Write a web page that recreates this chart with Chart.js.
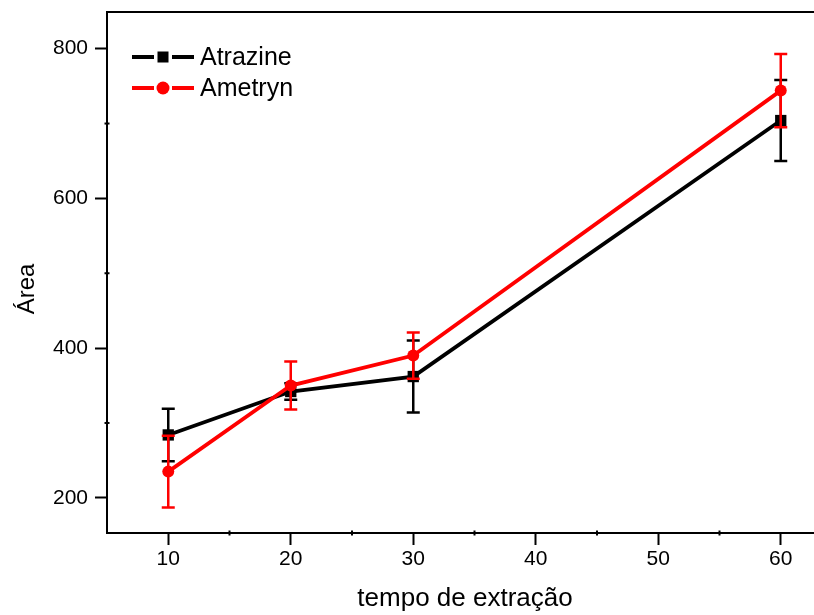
<!DOCTYPE html>
<html><head><meta charset="utf-8">
<script src="https://cdn.jsdelivr.net/npm/chart.js@4"></script>
<style>
html,body{margin:0;padding:0;background:#fff;overflow:hidden;width:814px;height:615px}
#wrap{width:850px;height:615px}
</style></head>
<body><div id="wrap"><canvas id="c" width="850" height="615"></canvas></div>
<script>
const times = [10, 20, 30, 60];
const atrazine = [284, 342, 362, 704];
const atrazineErr = [35, 11, 48, 54];
const ametryn = [235, 350, 390, 744];
const ametrynErr = [48, 32, 31, 49];
const xTickValues = [10, 20, 30, 40, 50, 60];
const xMinorTicks = [15, 25, 35, 45, 55];
const yTickValues = [200, 400, 600, 800];
const yMinorTicks = [300, 500, 700];
const seriesNames = ['Atrazine', 'Ametryn'];
const xTitle = 'tempo de extração';
const yTitle = 'Área';

const FONT = '"Liberation Sans", Arial, sans-serif';

function pts(xs, ys) { return xs.map((x, i) => ({x: x, y: ys[i]})); }
function noPad(s) { s.paddingTop = 0; s.paddingBottom = 0; s.paddingLeft = 0; s.paddingRight = 0; }

const errorBars = {
  id: 'errorBars',
  afterDatasetDraw(chart, args) {
    const ds = chart.data.datasets[args.index];
    const err = ds.errors; if (!err) return;
    const y = chart.scales.y; const ctx = chart.ctx;
    ctx.save();
    ctx.strokeStyle = ds.borderColor; ctx.lineWidth = 2.5; ctx.lineCap = 'butt';
    args.meta.data.forEach((el, i) => {
      const v = ds.data[i].y;
      const yt = y.getPixelForValue(v + err[i]);
      const yb = y.getPixelForValue(v - err[i]);
      const x = el.x;
      ctx.beginPath();
      ctx.moveTo(x, yt); ctx.lineTo(x, yb);
      ctx.moveTo(x - 6.5, yt); ctx.lineTo(x + 6.5, yt);
      ctx.moveTo(x - 6.5, yb); ctx.lineTo(x + 6.5, yb);
      ctx.stroke();
    });
    ctx.restore();
  }
};

const decor = {
  id: 'decor',
  afterDraw(chart) {
    const ctx = chart.ctx, a = chart.chartArea;
    const xs = chart.scales.x, ys = chart.scales.y;
    ctx.save();
    ctx.strokeStyle = '#000'; ctx.lineWidth = 2;
    ctx.beginPath(); ctx.moveTo(a.left - 1, a.top); ctx.lineTo(a.right, a.top); ctx.stroke();
    ctx.beginPath(); ctx.moveTo(a.right, a.top); ctx.lineTo(a.right, a.bottom); ctx.stroke();
    ctx.lineWidth = 2;
    xMinorTicks.forEach(v => { const px = xs.getPixelForValue(v);
      ctx.beginPath(); ctx.moveTo(px, a.bottom - 2.5); ctx.lineTo(px, a.bottom + 2.5); ctx.stroke(); });
    yMinorTicks.forEach(v => { const py = ys.getPixelForValue(v);
      ctx.beginPath(); ctx.moveTo(a.left - 2.5, py); ctx.lineTo(a.left + 2.5, py); ctx.stroke(); });
    ctx.fillStyle = '#000';
    ctx.font = '26px ' + FONT;
    ctx.textAlign = 'center'; ctx.textBaseline = 'alphabetic';
    ctx.fillText(xTitle, 465, 606);
    ctx.font = '24px ' + FONT; ctx.textBaseline = 'middle';
    ctx.save(); ctx.translate(27, 289); ctx.rotate(-Math.PI / 2);
    ctx.fillText(yTitle, 0, 0); ctx.restore();
    const rows = [57, 88];
    chart.data.datasets.forEach((ds, i) => {
      const yy = rows[i];
      ctx.strokeStyle = ds.borderColor; ctx.lineWidth = 4;
      ctx.beginPath(); ctx.moveTo(132, yy); ctx.lineTo(154, yy); ctx.stroke();
      ctx.beginPath(); ctx.moveTo(172, yy); ctx.lineTo(194, yy); ctx.stroke();
      ctx.fillStyle = ds.borderColor;
      if (ds.pointStyle === 'rect') { ctx.fillRect(163 - 5.5, yy - 5.5, 11, 11); }
      else { ctx.beginPath(); ctx.arc(163, yy, 6.5, 0, Math.PI * 2); ctx.fill(); }
      ctx.fillStyle = '#000'; ctx.font = '25px ' + FONT;
      ctx.textAlign = 'left'; ctx.textBaseline = 'middle';
      ctx.fillText(ds.label, 200, yy + 1);
    });
    ctx.restore();
  }
};

new Chart(document.getElementById('c'), {
  type: 'line',
  data: {
    datasets: [
      { label: seriesNames[0], data: pts(times, atrazine), errors: atrazineErr,
        borderColor: '#000000', backgroundColor: '#000000', borderWidth: 3.8,
        pointStyle: 'rect', pointRadius: 8, pointBorderWidth: 0, order: 2, tension: 0 },
      { label: seriesNames[1], data: pts(times, ametryn), errors: ametrynErr,
        borderColor: '#ff0000', backgroundColor: '#ff0000', borderWidth: 3.8,
        pointStyle: 'circle', pointRadius: 6, pointBorderWidth: 0, order: 1, tension: 0 }
    ]
  },
  options: {
    responsive: false, animation: false,
    layout: { padding: { left: 0, top: 12, right: 2, bottom: 0 } },
    plugins: { legend: { display: false }, tooltip: { enabled: false } },
    scales: {
      x: {
        type: 'linear', min: 5, max: 65,
        afterBuildTicks: s => { s.ticks = xTickValues.map(v => ({value: v})); },
        afterFit: s => { s.height = 82; noPad(s); },
        grid: { drawOnChartArea: false, tickLength: 12, tickWidth: 2, tickColor: '#000' },
        border: { display: true, color: '#000', width: 2 },
        ticks: { color: '#000', font: { family: FONT, size: 21 }, padding: 2, maxRotation: 0 }
      },
      y: {
        type: 'linear', min: 153, max: 849,
        afterBuildTicks: s => { s.ticks = yTickValues.map(v => ({value: v})); },
        afterFit: s => { s.width = 107; noPad(s); },
        grid: { drawOnChartArea: false, tickLength: 12, tickWidth: 2, tickColor: '#000' },
        border: { display: true, color: '#000', width: 2 },
        ticks: { color: '#000', font: { family: FONT, size: 21 }, padding: 7 }
      }
    }
  },
  plugins: [errorBars, decor]
});
</script>
</body></html>
